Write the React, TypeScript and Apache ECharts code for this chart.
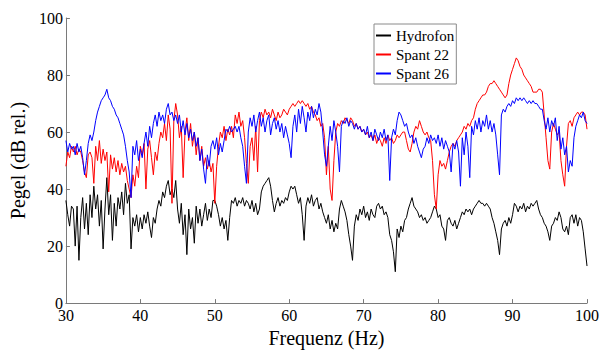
import React, { useEffect, useRef } from "react";
import * as echarts from "echarts";

const F_START = 30;
const F_STEP = 0.25;

const seriesNames = ["Hydrofon", "Spant 22", "Spant 26"];
const seriesColors = ["#000000", "#ff0000", "#0000ff"];

// Hydrofon, 30..100 Hz in 0.25 Hz steps
const hydrofon = [
  36, 31, 27, 34, 33, 20, 34, 15, 30, 37, 26, 35, 24, 38, 30, 41, 33, 38, 27, 36,
  19, 33, 44, 31, 38, 22, 35, 27, 37, 33, 39, 31, 42, 35, 38, 19, 30, 27, 31, 25,
  30, 26, 31, 28, 32, 27, 23, 30, 28, 33, 36, 34, 39, 37, 41, 43, 38, 40, 37, 43,
  33, 28, 35, 24, 31, 17, 33, 26, 30, 21, 34, 28, 33, 27, 31, 35, 29, 33, 30, 36,
  36, 34, 31, 27, 30, 26, 29, 22, 30, 36, 35, 37, 34, 36, 35, 37, 34, 36, 35, 33,
  36, 32, 35, 31, 33, 39, 41, 42, 43, 44, 41, 36, 32, 35, 37, 34, 36, 35, 37, 36,
  39, 41, 40, 41, 38, 35, 37, 31, 22, 34, 37, 35, 38, 34, 36, 37, 33, 35, 32, 30,
  28, 31, 26, 29, 25, 28, 26, 33, 36, 34, 32, 29, 24, 20, 15, 27, 31, 29, 33, 31,
  34, 30, 32, 29, 33, 31, 30, 34, 35, 33, 34, 31, 32, 30, 24, 22, 18, 11, 26, 23,
  27, 25, 29, 30, 33, 35, 37, 34, 33, 32, 30, 31, 29, 30, 28, 29, 30, 32, 34, 33,
  30, 31, 27, 26, 22, 29, 30, 28, 27, 29, 26, 28, 30, 32, 31, 33, 32, 33, 31, 33,
  34, 35, 36, 35, 35, 34, 35, 34, 33, 30, 28, 25, 22, 17, 26, 28, 29, 27, 30, 28,
  31, 35, 34, 32, 34, 33, 35, 32, 34, 33, 35, 34, 35, 36, 33, 31, 30, 28, 27, 25,
  22, 27, 28, 30, 29, 32, 30, 26, 25, 27, 24, 30, 31, 28, 31, 27, 30, 29, 25, 19,
  13,
];

// Spant 22
const spant22 = [
  48, 53, 51, 55, 53, 55, 52, 54, 53, 50, 46, 44, 52, 53, 51, 42, 55, 50, 57, 49,
  54, 50, 53, 39, 52, 47, 51, 46, 50, 45, 49, 46, 48, 43, 40, 37, 45, 41, 48, 44,
  55, 52, 56, 40, 54, 57, 51, 45, 53, 50, 56, 60, 58, 63, 57, 66, 61, 35, 64, 70,
  66, 58, 62, 44, 60, 65, 57, 63, 55, 60, 52, 58, 50, 55, 48, 51, 47, 50, 46, 49,
  35, 48, 55, 60, 58, 62, 57, 61, 59, 62, 58, 66, 63, 67, 62, 64, 58, 49, 42, 55,
  58, 50, 62, 46, 64, 67, 65, 68, 66, 67, 65, 68, 66, 64, 67, 65, 66, 68, 67, 66,
  68, 69, 70, 69, 70, 71, 70, 71, 70, 69, 70, 68, 69, 67, 66, 64, 65, 62, 63, 58,
  45, 55, 40, 36, 50, 60, 63, 62, 64, 63, 65, 64, 63, 65, 64, 62, 63, 61, 62, 60,
  61, 59, 60, 58, 59, 57, 59, 56, 58, 57, 55, 58, 56, 59, 57, 58, 56, 57, 59, 58,
  59, 60, 60, 57, 54, 53, 56, 60, 62, 61, 64, 62, 60, 59, 60, 58, 57, 50, 38, 33,
  45, 50, 48, 49, 47, 50, 53, 55, 56, 55, 57, 58, 59, 60, 62, 61, 63, 62, 64, 65,
  68, 70, 71, 72, 73, 73, 74, 76, 77, 77, 78, 77, 76, 75, 74, 73, 72, 73, 77, 80,
  82, 84, 86, 85, 83, 82, 80, 79, 78, 77, 76, 74, 74, 74, 75, 75, 74, 66, 58, 50,
  47, 60, 63, 61, 59, 60, 50, 45, 41, 55, 63, 64, 62, 65, 66, 67, 66, 67, 67, 66,
  61,
];

// Spant 26
const spant26 = [
  57, 53, 56, 54, 55, 52, 56, 53, 55, 51, 45, 50, 56, 59, 57, 60, 64, 67, 69, 71,
  72, 73, 75, 72, 71, 69, 68, 66, 65, 63, 61, 59, 55, 50, 46, 37, 55, 52, 57, 50,
  54, 51, 56, 60, 55, 62, 58, 63, 66, 62, 67, 64, 66, 63, 68, 70, 66, 67, 64, 66,
  63, 66, 60, 64, 59, 63, 58, 61, 57, 60, 55, 58, 50, 54, 47, 42, 52, 48, 55, 57,
  54, 58, 52, 56, 53, 57, 61, 60, 62, 60, 61, 62, 60, 62, 58, 55, 48, 42, 60, 65,
  62, 66, 60, 64, 67, 62, 65, 60, 64, 66, 59, 63, 65, 61, 64, 60, 63, 58, 62, 59,
  56, 51, 62, 66, 60, 68, 63, 69, 65, 60, 67, 64, 69, 65, 68, 66, 70, 67, 60, 52,
  48, 55, 62, 57, 64, 60, 55, 46, 62, 64, 63, 65, 62, 64, 63, 61, 63, 61, 62, 60,
  61, 59, 62, 58, 60, 57, 61, 59, 57, 60, 58, 61, 57, 59, 43, 58, 61, 59, 64, 67,
  66, 64, 62, 63, 60, 58, 59, 56, 58, 55, 53, 51, 54, 55, 58, 56, 59, 57, 58, 56,
  59, 55, 58, 54, 57, 55, 53, 46, 56, 54, 57, 53, 41, 58, 52, 60, 55, 44, 62, 59,
  64, 61, 65, 60, 64, 62, 66, 61, 64, 60, 63, 59, 52, 45, 66, 68, 67, 69, 70, 69,
  71, 70, 72, 71, 72, 71, 72, 71, 70, 71, 70, 71, 70, 70, 69, 68, 68, 64, 61, 65,
  60, 64, 62, 65, 57, 62, 54, 58, 52, 55, 46, 50, 48, 58, 62, 64, 66, 65, 67, 64,
  63,
];

const X_MIN = 30, X_MAX = 100, X_INT = 10;
const Y_MIN = 0, Y_MAX = 100, Y_INT = 20;

const FONT = "'Liberation Serif', 'Times New Roman', serif";
const AXIS_COLOR = "#7a7a7a";

export default function App() {
  const ref = useRef<HTMLDivElement>(null);
  useEffect(() => {
    const chart = echarts.init(ref.current!, null, { renderer: "svg" });
    const toPairs = (arr: number[]) => arr.map((v, i) => [F_START + i * F_STEP, v]);
    const datasets = [hydrofon, spant22, spant26];
    const axisCommon = {
      axisLine: { show: true, lineStyle: { color: AXIS_COLOR, width: 1 } },
      axisTick: { show: true, inside: true, length: 4, lineStyle: { color: AXIS_COLOR } },
      splitLine: { show: false },
      axisLabel: { color: "#000", fontFamily: FONT, fontSize: 16 },
      nameTextStyle: { color: "#000", fontFamily: FONT, fontSize: 20 },
      nameLocation: "middle" as const,
    };
    chart.setOption({
      animation: false,
      backgroundColor: "#fff",
      color: seriesColors,
      grid: { left: 60, right: 15, top: 18, bottom: 37, containLabel: false },
      xAxis: {
        type: "value",
        min: X_MIN,
        max: X_MAX,
        interval: X_INT,
        name: "Frequenz (Hz)",
        nameGap: 12,
        ...axisCommon,
        axisLabel: { ...axisCommon.axisLabel, margin: 4 },
      },
      yAxis: {
        type: "value",
        min: Y_MIN,
        max: Y_MAX,
        interval: Y_INT,
        name: "Pegel (dB rel.)",
        nameGap: 25,
        ...axisCommon,
        axisLabel: { ...axisCommon.axisLabel, margin: 3 },
      },
      legend: {
        orient: "vertical",
        left: 374,
        top: 24,
        padding: [4, 2, 3, 2],
        itemGap: 4,
        itemWidth: 15,
        itemHeight: 2,
        icon: "rect",
        borderColor: "#8a8a8a",
        borderWidth: 1,
        backgroundColor: "#fff",
        textStyle: { color: "#000", fontFamily: FONT, fontSize: 15, lineHeight: 15 },
        data: seriesNames,
      },
      series: datasets.map((d, i) => ({
        name: seriesNames[i],
        type: "line",
        data: toPairs(d),
        symbol: "none",
        showSymbol: false,
        silent: true,
        itemStyle: { color: seriesColors[i] },
        lineStyle: { color: seriesColors[i], width: 1 },
        emphasis: { disabled: true },
        z: 2 + i,
      })),
    });
    return () => chart.dispose();
  }, []);
  return (
    <div
      ref={ref}
      style={{ position: "fixed", left: 0, top: 0, width: 602, height: 353 }}
    />
  );
}
